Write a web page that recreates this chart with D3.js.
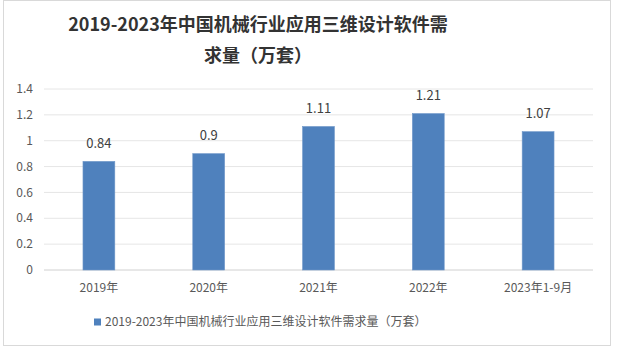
<!DOCTYPE html>
<html>
<head>
<meta charset="utf-8">
<script src="https://cdn.jsdelivr.net/npm/d3@7"></script>
<style>
  body { margin: 0; background: #fff; }
  svg text { font-family: "Noto Sans CJK SC", "Open Sans", sans-serif; }
</style>
</head>
<body>
<div class="Canvas"></div>
<script>
const categories = ['2019年', '2020年', '2021年', '2022年', '2023年1-9月'];
const values = [0.84, 0.9, 1.11, 1.21, 1.07];
const yTicks = [0, 0.2, 0.4, 0.6, 0.8, 1, 1.2, 1.4];
const titleLines = ['2019-2023年中国机械行业应用三维设计软件需', '求量（万套）'];
const seriesName = '2019-2023年中国机械行业应用三维设计软件需求量（万套）';

const width = 618;
const height = 352;
const plot = { left: 44, right: 593, top: 89, bottom: 270 };
const barColor = '#4f81bd';

const svg = d3.select('.Canvas').append('svg')
  .attr('width', width)
  .attr('height', height);

// outer frame
svg.append('rect')
  .attr('x', 3.5).attr('y', 0.5)
  .attr('width', 607).attr('height', 345)
  .attr('fill', '#fff')
  .attr('stroke', '#d9d9d9');

const x = d3.scaleBand().domain(categories).range([plot.left, plot.right]).paddingInner(0.71).paddingOuter(0.355);
const y = d3.scaleLinear().domain([0, 1.4]).range([plot.bottom, plot.top]);

// grid
svg.append('g')
  .selectAll('line')
  .data(yTicks)
  .enter()
  .append('line')
  .attr('x1', plot.left).attr('x2', plot.right)
  .attr('y1', (d) => y(d)).attr('y2', (d) => y(d))
  .attr('stroke', (d) => (d === 0 ? '#d0d0d0' : '#e6e6e6'))
  .attr('stroke-width', 1);

// y labels
svg.append('g')
  .selectAll('text')
  .data(yTicks)
  .enter()
  .append('text')
  .attr('x', 33)
  .attr('y', (d) => y(d))
  .attr('dy', '0.35em')
  .attr('text-anchor', 'end')
  .attr('font-size', '12px')
  .attr('fill', '#595959')
  .text((d) => d);

// bars
svg.append('g')
  .selectAll('rect')
  .data(values)
  .enter()
  .append('rect')
  .attr('x', (d, i) => x(categories[i]))
  .attr('y', (d) => y(d))
  .attr('width', x.bandwidth())
  .attr('height', (d) => y(0) - y(d))
  .attr('fill', barColor)
  .attr('stroke', '#6f97c9')
  .attr('stroke-width', 0.6);

// value labels
svg.append('g')
  .selectAll('text')
  .data(values)
  .enter()
  .append('text')
  .attr('x', (d, i) => x(categories[i]) + x.bandwidth() / 2)
  .attr('y', (d) => y(d) - 18)
  .attr('dy', '0.35em')
  .attr('text-anchor', 'middle')
  .attr('font-size', '13px')
  .attr('fill', '#404040')
  .text((d) => d);

// x labels
svg.append('g')
  .selectAll('text')
  .data(categories)
  .enter()
  .append('text')
  .attr('x', (d) => x(d) + x.bandwidth() / 2)
  .attr('y', 288)
  .attr('dy', '0.35em')
  .attr('text-anchor', 'middle')
  .attr('font-size', '12px')
  .attr('fill', '#595959')
  .text((d) => d);

// title
svg.append('g')
  .selectAll('text')
  .data(titleLines)
  .enter()
  .append('text')
  .attr('x', 258)
  .attr('y', (d, i) => 25 + i * 31)
  .attr('dy', '0.35em')
  .attr('text-anchor', 'middle')
  .attr('font-size', '18px')
  .attr('font-weight', 'bold')
  .attr('fill', '#333')
  .text((d) => d);

// legend
const legend = svg.append('g').attr('transform', 'translate(94,322)');
legend.append('rect')
  .attr('x', 0).attr('y', -3.5)
  .attr('width', 7).attr('height', 7)
  .attr('fill', barColor);
legend.append('text')
  .attr('x', 11).attr('y', 0)
  .attr('dy', '0.35em')
  .attr('font-size', '12px')
  .attr('fill', '#595959')
  .text(seriesName);
</script>
</body>
</html>
